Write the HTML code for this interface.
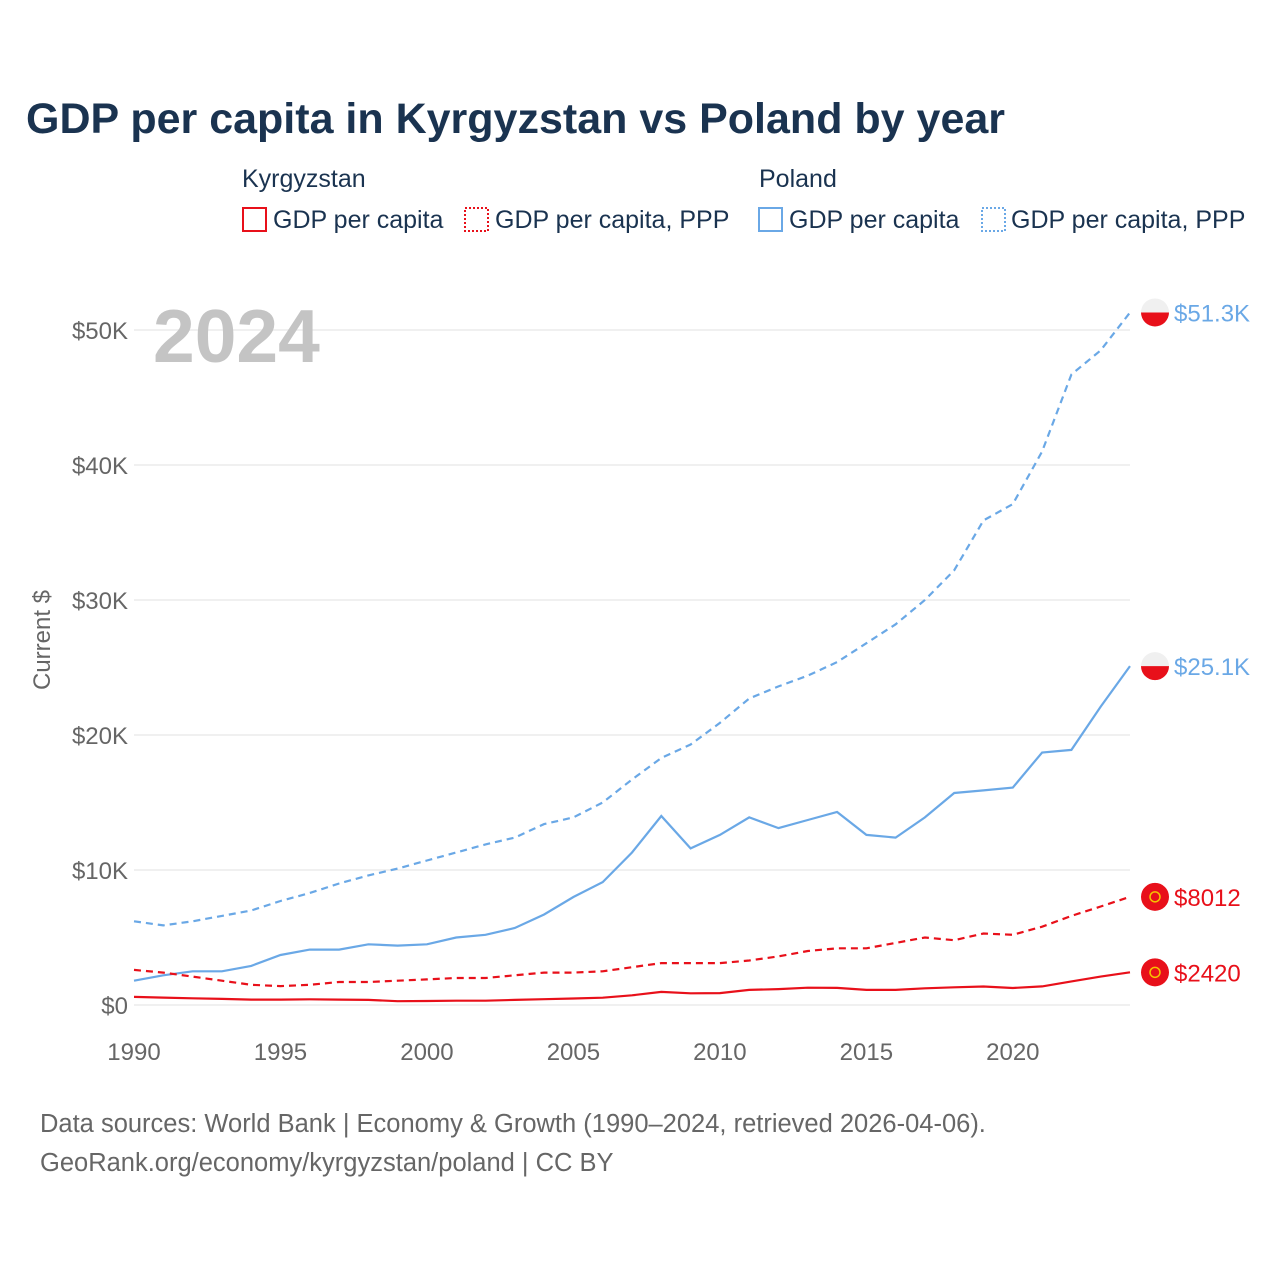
<!DOCTYPE html>
<html><head><meta charset="utf-8">
<style>
body{margin:0;background:#fff;font-family:"Liberation Sans",sans-serif;}
svg text{font-family:"Liberation Sans",sans-serif;}
</style></head>
<body>
<svg width="1280" height="1280" viewBox="0 0 1280 1280" xmlns="http://www.w3.org/2000/svg">
<text x="26" y="133" font-size="43" font-weight="bold" fill="#1a3350">GDP per capita in Kyrgyzstan vs Poland by year</text>
<g font-size="25" fill="#1a3350">
<text x="242" y="187">Kyrgyzstan</text>
<text x="759" y="187">Poland</text>
<rect x="243" y="208" width="23" height="23" fill="none" stroke="#e8101a" stroke-width="2"/>
<text x="273" y="228">GDP per capita</text>
<rect x="465" y="208" width="23" height="23" fill="none" stroke="#e8101a" stroke-width="2" stroke-dasharray="2,2"/>
<text x="495" y="228">GDP per capita, PPP</text>
<rect x="759" y="208" width="23" height="23" fill="none" stroke="#6aa8e6" stroke-width="2"/>
<text x="789" y="228">GDP per capita</text>
<rect x="982" y="208" width="23" height="23" fill="none" stroke="#6aa8e6" stroke-width="2" stroke-dasharray="2,2"/>
<text x="1011" y="228">GDP per capita, PPP</text>
</g>
<g id="grid"></g>
<text x="153" y="362" font-size="75" font-weight="bold" fill="#c4c4c4">2024</text>
<text transform="translate(50,640) rotate(-90)" text-anchor="middle" font-size="24" fill="#666">Current $</text>
<g id="series"></g>
<g id="ends"></g>
<text x="40" y="1132" font-size="25.5" fill="#666">Data sources: World Bank | Economy &amp; Growth (1990–2024, retrieved 2026-04-06).</text>
<text x="40" y="1171" font-size="25.5" fill="#666">GeoRank.org/economy/kyrgyzstan/poland | CC BY</text>
</svg>
<script>
const years=[];for(let y=1990;y<=2024;y++)years.push(y);
const plPPP=[6.2,5.9,6.2,6.6,7.0,7.7,8.3,9.0,9.6,10.1,10.7,11.3,11.9,12.4,13.4,13.9,15.0,16.7,18.3,19.3,20.9,22.7,23.6,24.4,25.4,26.8,28.2,30.0,32.2,35.9,37.1,41.0,46.7,48.5,51.3];
const plGDP=[1.8,2.2,2.5,2.5,2.9,3.7,4.1,4.1,4.5,4.4,4.5,5.0,5.2,5.7,6.7,8.0,9.1,11.3,14.0,11.6,12.6,13.9,13.1,13.7,14.3,12.6,12.4,13.9,15.7,15.9,16.1,18.7,18.9,22.1,25.1];
const kgPPP=[2.6,2.4,2.1,1.8,1.5,1.4,1.5,1.7,1.7,1.8,1.9,2.0,2.0,2.2,2.4,2.4,2.5,2.8,3.1,3.1,3.1,3.3,3.6,4.0,4.2,4.2,4.6,5.0,4.8,5.3,5.2,5.8,6.6,7.3,8.012];
const kgGDP=[0.6,0.55,0.5,0.45,0.4,0.4,0.42,0.4,0.38,0.28,0.3,0.32,0.32,0.38,0.43,0.48,0.54,0.72,0.97,0.87,0.88,1.12,1.18,1.28,1.27,1.12,1.12,1.24,1.31,1.37,1.26,1.38,1.75,2.1,2.42];
const yTicks=[0,10,20,30,40,50];
const yTickLabels=["$0","$10K","$20K","$30K","$40K","$50K"];
const xTicks=[1990,1995,2000,2005,2010,2015,2020];
const endLabels=["$51.3K","$25.1K","$8012","$2420"];
const NS="http://www.w3.org/2000/svg";
const X=y=>134+(y-1990)*(1130-134)/34;
const Y=v=>1005-v*13.5;
function mk(t,a,p){const e=document.createElementNS(NS,t);for(const k in a)e.setAttribute(k,a[k]);p.appendChild(e);return e;}
const grid=document.getElementById('grid');
yTicks.forEach((v,i)=>{
 const l=mk('line',{x1:134,x2:1130,y1:Y(v),y2:Y(v),stroke:'#ebebeb','stroke-width':1.5},grid);
 
 
 const t=mk('text',{x:128,y:Y(v)+9,'text-anchor':'end','font-size':24,fill:'#666'},grid);t.textContent=yTickLabels[i];
 
 
});
xTicks.forEach(yr=>{
 const t=mk('text',{x:X(yr),y:1060,'text-anchor':'middle','font-size':24,fill:'#666'},grid);t.textContent=yr;
 
 
});
const S=document.getElementById('series');
const defs=[[plPPP,'#6aa8e6','7,5','poland-ppp-line'],[plGDP,'#6aa8e6','','poland-gdp-line'],[kgPPP,'#e8101a','7,5','kyrgyzstan-ppp-line'],[kgGDP,'#e8101a','','kyrgyzstan-gdp-line']];
const E=document.getElementById('ends');
defs.forEach((d,i)=>{
 const p=mk('path',{d:d[0].map((v,j)=>(j?'L':'M')+X(years[j]).toFixed(1)+','+Y(v).toFixed(1)).join(''),fill:'none',stroke:d[1],'stroke-width':2.2,'stroke-dasharray':d[2]},S);
 
 
 const last=d[0][d[0].length-1],cy=Y(last),cx=1155;
 const g=mk('g',{},E);
 
 
 if(i<2){
  mk('circle',{cx,cy,r:14,fill:'#f0f0f0'},g);
  mk('path',{d:`M${cx-14},${cy} A14,14 0 0 0 ${cx+14},${cy} Z`,fill:'#e8101a'},g);
 }else{
  mk('circle',{cx,cy,r:14,fill:'#e8101a'},g);
  mk('circle',{cx,cy,r:5,fill:'none',stroke:'#f5c400','stroke-width':1.5},g);
 }
 const t=mk('text',{x:1174,y:cy+9,'font-size':24,fill:d[1]},g);t.textContent=endLabels[i];
});
</script>
</body></html>
